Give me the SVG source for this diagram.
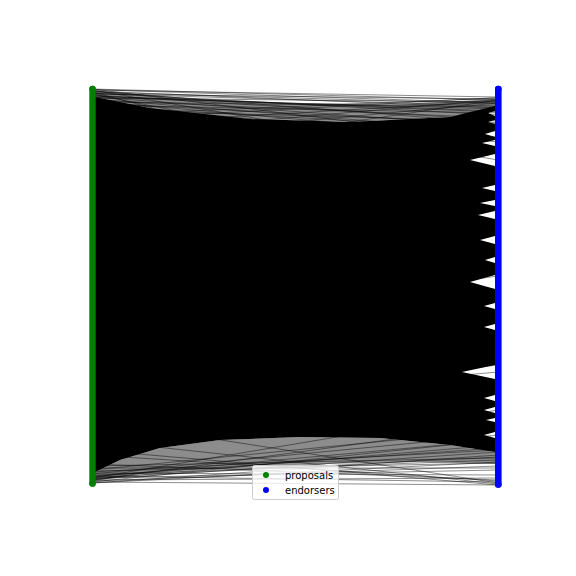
<svg xmlns="http://www.w3.org/2000/svg" xmlns:xlink="http://www.w3.org/1999/xlink" width="576" height="576" viewBox="0 0 576 576">
<style>
.edge{fill:none;stroke:#000;stroke-opacity:0.5;stroke-width:0.9}
.core{fill:#000}
.fringe{fill:#000;fill-opacity:0.45}
.lg{font-family:"DejaVu Sans",sans-serif;font-size:10px;fill:#000}
</style>
<defs>
<circle id="p" cx="92.5" cy="0" r="3.2" fill="#008000"/>
<circle id="e" cx="498.3" cy="0" r="3.3" fill="#0000ff"/>
</defs>
<rect width="576" height="576" fill="#fff"/>
<g id="connectors">
<polygon class="fringe" points="95,91 200,99 300,103 400,104 495,99 495,108 450,117 350,122 250,119 150,108 95,97"/>
<polygon class="fringe" points="95,472 120,460 160,448 220,440 300,437 380,438 450,445 495,452 495,464 420,462 320,464 220,468 140,474 95,481"/>
<polygon class="core" points="95,97 150,108 250,119 350,122 450,117 495,106 495,111 488,113 495,116 495,120 488,122 495,124 495,131 485,134 495,137 495,140 482,143 495,146 495,154 470,160 495,166 495,185 482,188 495,191 495,200 480,203 495,206 495,211 478,215 495,219 495,236 480,240 495,244 495,257 485,260 495,263 495,275 470,282 495,289 495,303 484,306 495,309 495,324 484,327 495,330 495,365 462,372 495,379 495,395 484,398 495,401 495,407 484,410 495,413 495,418 486,420 495,422 495,432 484,435 495,438 495,452 450,445 380,438 300,437 220,440 160,448 120,460 95,472"/>
<path class="edge" d="M92 89L498 100M92 90L498 97M92 91L498 108M92 92L498 104M92 93L498 115M92 94L498 99M92 95L498 120M92 96L498 111M92 97L498 126M92 98L498 102M92 99L498 131M92 100L498 118M92 101L498 137M92 102L498 107M92 103L498 124M92 104L498 142M92 105L498 113M92 106L498 129M92 108L498 150M92 110L498 121M92 115L498 98M92 125L498 101M92 140L498 103M92 160L498 100M92 90L498 160M92 92L498 200M92 89L498 140M92 94L498 175M92 96L498 112M92 91L498 123M92 89.5L498 103M92 93.5L498 106M92 97.5L498 109M92 120L498 97.5M92 135L498 99.5"/>
<path class="edge" d="M92 483L498 455M92 482L498 485M92 481L498 466M92 480L498 478M92 479L498 445M92 478L498 470M92 477L498 440M92 476L498 482M92 475L498 460M92 474L498 435M92 473L498 475M92 472L498 450M92 470L498 430M92 468L498 468M92 466L498 458M92 464L498 480M92 440L498 484M92 420L498 483M92 455L498 481M92 480L498 425M92 478L498 410M92 482L498 440M92 476L498 448M92 471L498 463M92 483L498 462M92 479.5L498 452M92 477.5L498 457M92 450L498 485"/>
<path class="edge" d="M420 160L498 150M440 162L498 170M430 285L498 276M445 280L498 290M410 375L498 365M420 372L498 382M430 378L498 372"/>
</g>
<g id="proposals">
<line x1="92.5" y1="89" x2="92.5" y2="483.5" stroke="#008000" stroke-width="6.4" stroke-linecap="round"/>
<use xlink:href="#p" y="89"/><use xlink:href="#p" y="483.5"/>
</g>
<g id="endorsers">
<line x1="498.3" y1="89" x2="498.3" y2="484.5" stroke="#0000ff" stroke-width="6.6" stroke-linecap="round"/>
<use xlink:href="#e" y="89"/><use xlink:href="#e" y="484.5"/>
</g>
<g id="legend">
<rect x="252.5" y="465.5" width="86" height="34" rx="2" ry="2" fill="#fff" fill-opacity="0.8" stroke="#ccc" stroke-width="1"/>
<circle cx="266" cy="475" r="3" fill="#008000"/>
<text class="lg" x="285" y="478.5">proposals</text>
<circle cx="266" cy="490" r="3" fill="#0000ff"/>
<text class="lg" x="285" y="493.5">endorsers</text>
</g>
</svg>
